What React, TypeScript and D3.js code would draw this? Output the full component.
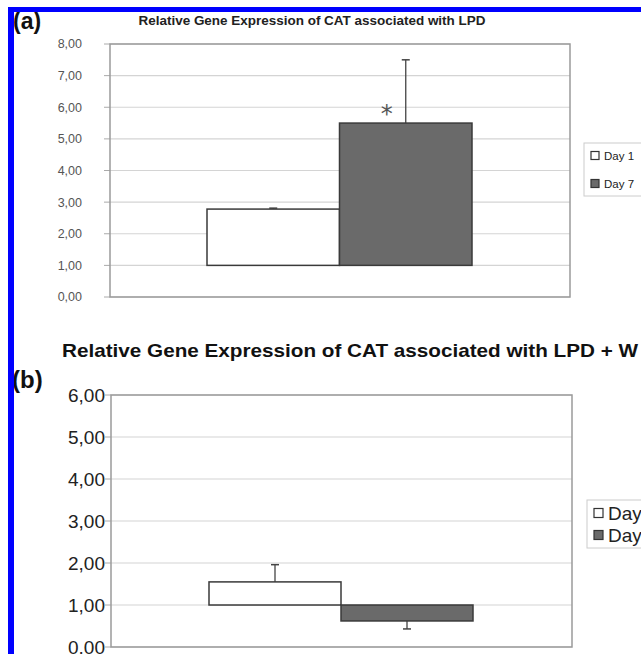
import React from "react";
import { scaleBand, scaleLinear, range } from "d3";

// chart data
const categories = ["Day 1", "Day 7"];
const baseline = 1;

const lpdTitle = "Relative Gene Expression of CAT associated with LPD";
const lpdValues = [2.78, 5.5];
const lpdErrors = [0.03, 2.0];
const lpdTicks = [0, 1, 2, 3, 4, 5, 6, 7, 8];

const lpdwTitle = "Relative Gene Expression of CAT associated with LPD + W";
const lpdwValues = [1.55, 0.62];
const lpdwErrors = [0.41, 0.19];
const lpdwTicks = [0, 1, 2, 3, 4, 5, 6];

const fills = ["#ffffff", "#6a6a6a"];
const fmt = (v: number) => v.toFixed(2).replace(".", ",");

type PanelProps = {
  values: number[];
  errors: number[];
  ticks: number[];
  top: number;
  bottom: number;
  left: number;
  right: number;
  barLeft: number;
  barRight: number;
  tickFont: number;
  tickColor: string;
  labelEnd: number;
  star?: boolean;
};

const Panel = ({
  values,
  errors,
  ticks,
  top,
  bottom,
  left,
  right,
  barLeft,
  barRight,
  tickFont,
  tickColor,
  labelEnd,
  star,
}: PanelProps) => {
  const yScale = scaleLinear()
    .domain([0, ticks[ticks.length - 1]])
    .range([bottom, top]);
  const xScale = scaleBand().domain(categories).range([barLeft, barRight]);

  return (
    <g>
      <rect x={left} y={top} width={right - left} height={bottom - top} fill="#fff" />
      {ticks.map((t) => (
        <g key={t}>
          <line x1={left} x2={right} y1={yScale(t)} y2={yScale(t)} stroke="#d4d4d4" strokeWidth={1.2} />
          <line x1={left - 6} x2={left} y1={yScale(t)} y2={yScale(t)} stroke="#aaa" />
          <text
            x={labelEnd}
            y={yScale(t)}
            dy="0.35em"
            textAnchor="end"
            fontSize={tickFont}
            fill={tickColor}
          >
            {fmt(t)}
          </text>
        </g>
      ))}
      <rect
        x={left}
        y={top}
        width={right - left}
        height={bottom - top}
        fill="none"
        stroke="#9a9a9a"
        strokeWidth={1.5}
      />
      {categories.map((c, i) => {
        const v = values[i];
        const x0 = xScale(c) as number;
        const w = xScale.bandwidth();
        const cx = x0 + w / 2;
        const up = v >= baseline;
        const errEnd = up ? v + errors[i] : v - errors[i];
        return (
          <g key={c}>
            <line x1={cx} x2={cx} y1={yScale(v)} y2={yScale(errEnd)} stroke="#444" strokeWidth={1.3} />
            <line x1={cx - 4} x2={cx + 4} y1={yScale(errEnd)} y2={yScale(errEnd)} stroke="#444" strokeWidth={1.5} />
            <rect
              x={x0}
              y={yScale(Math.max(v, baseline))}
              width={w}
              height={Math.abs(yScale(v) - yScale(baseline))}
              fill={fills[i]}
              stroke="#3a3a3a"
              strokeWidth={1.5}
            />
            {star && i === 1 && (
              <text x={cx - 19} y={yScale(v) - 1} textAnchor="middle" fontSize={24} fill="#555" fontFamily="DejaVu Sans">
                *
              </text>
            )}
          </g>
        );
      })}
    </g>
  );
};

const Legend = ({ x, y, w, h, gap, font, sq }: { x: number; y: number; w: number; h: number; gap: number; font: number; sq: number }) => (
  <g>
    <rect x={x} y={y} width={w} height={h} fill="#fff" stroke="#ccc" />
    {range(categories.length).map((i) => {
      const cy = y + h / 2 + (i - 0.5) * gap;
      return (
        <g key={i}>
          <rect x={x + 7} y={cy - sq / 2} width={sq} height={sq} fill={fills[i]} stroke="#333" strokeWidth={1.2} />
          <text x={x + 7 + sq + 5} y={cy} dy="0.35em" fontSize={font} fill="#222">
            {categories[i]}
          </text>
        </g>
      );
    })}
  </g>
);

export default function App() {
  return (
    <svg
      width={641}
      height={654}
      style={{ position: "absolute", left: 0, top: 0, background: "#fff" }}
      fontFamily="Liberation Sans, Arial, sans-serif"
    >
      <rect width={641} height={654} fill="#fff" />
      <text
        x={312}
        y={25}
        textAnchor="middle"
        fontSize={13.5}
        fontWeight="bold"
        fill="#222"
        textLength={347}
        lengthAdjust="spacingAndGlyphs"
      >
        {lpdTitle}
      </text>
      <rect x={0} y={0} width={641} height={16} fill="#fff" />
      <Panel
        values={lpdValues}
        errors={lpdErrors}
        ticks={lpdTicks}
        top={44}
        bottom={297}
        left={110}
        right={570}
        barLeft={207}
        barRight={472}
        tickFont={12.5}
        tickColor="#555"
        labelEnd={82}
        star
      />
      <Legend x={584} y={143} w={70} h={53} gap={28} font={11.5} sq={8} />

      <text
        x={62}
        y={357}
        fontSize={19}
        fontWeight="bold"
        fill="#111"
        textLength={576}
        lengthAdjust="spacingAndGlyphs"
      >
        {lpdwTitle}
      </text>
      <Panel
        values={lpdwValues}
        errors={lpdwErrors}
        ticks={lpdwTicks}
        top={395}
        bottom={647}
        left={111}
        right={572}
        barLeft={209}
        barRight={473}
        tickFont={19}
        tickColor="#222"
        labelEnd={105}
      />
      <Legend x={587} y={500} w={70} h={48} gap={22} font={19} sq={9} />

      <text x={13} y={29} fontSize={23} fontWeight="bold" fill="#111">(a)</text>
      <text x={12} y={388} fontSize={24} fontWeight="bold" fill="#111">(b)</text>
      <rect x={8} y={7} width={633} height={5} fill="#0000ff" />
      <rect x={8} y={7} width={6} height={647} fill="#0000ff" />
    </svg>
  );
}
